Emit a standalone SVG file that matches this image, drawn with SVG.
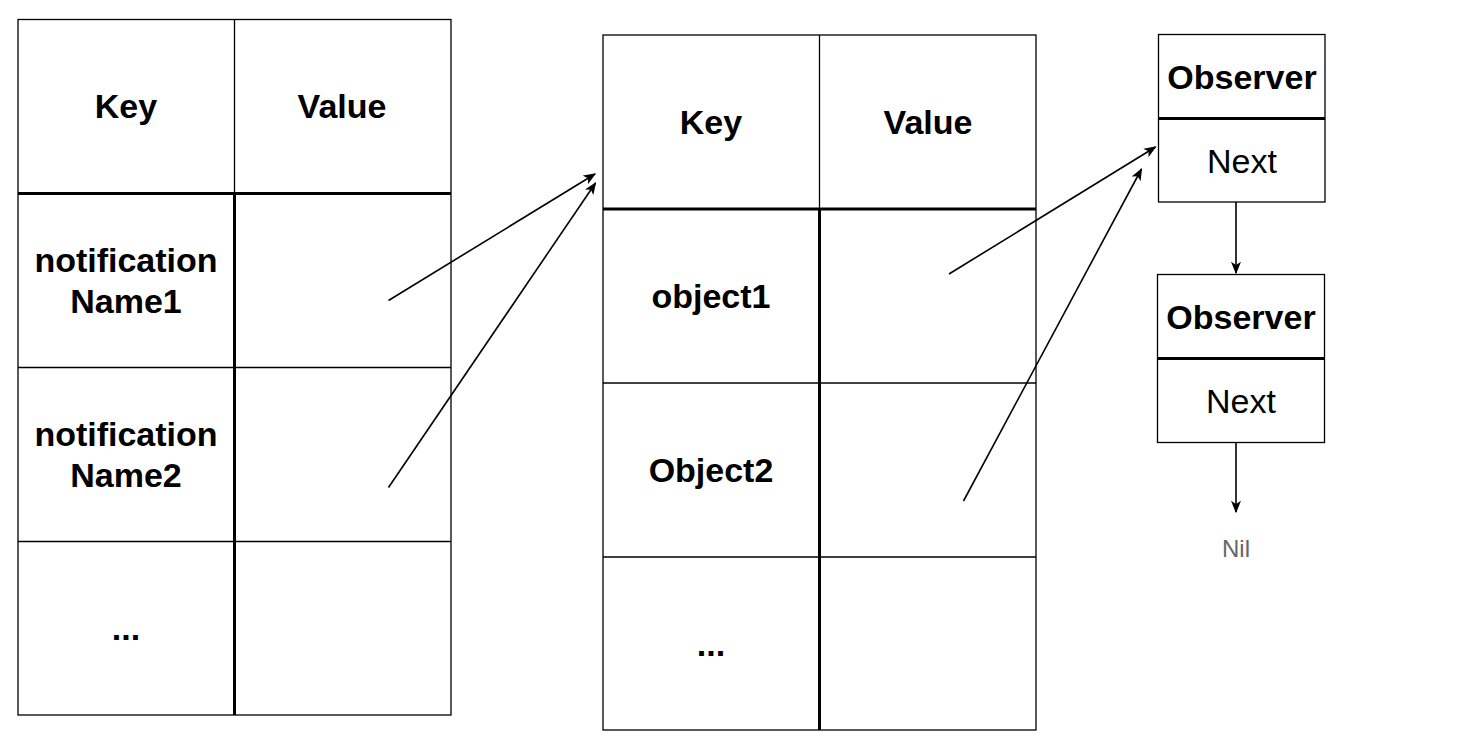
<svg xmlns="http://www.w3.org/2000/svg" width="1480" height="750" viewBox="0 0 1480 750">
<style>
.cell{fill:#fff;stroke:#000;stroke-width:1.3}
.thin{stroke:#000;stroke-width:1.3;fill:none}
.thick{stroke:#000;stroke-width:3;fill:none}
.b{font-family:"Liberation Sans",Arial,Helvetica,sans-serif;font-weight:bold;font-size:34px;fill:#000;text-anchor:middle}
.r{font-family:"Liberation Sans",Arial,Helvetica,sans-serif;font-size:34px;fill:#000;text-anchor:middle}
.nil{font-family:"Liberation Sans",Arial,Helvetica,sans-serif;font-size:24px;fill:#666;text-anchor:middle}
.arrow{stroke:#000;stroke-width:1.6;fill:none;marker-end:url(#ah)}
</style>
<defs>
<marker id="ah" viewBox="0 0 10 8" refX="9" refY="4" markerWidth="13" markerHeight="10" markerUnits="userSpaceOnUse" orient="auto">
<path d="M0,0 L10,4 L0,8 L2.5,4 z" fill="#000"/>
</marker>
</defs>
<rect width="1480" height="750" fill="#fff"/>
<g id="table1">
<rect class="cell" x="18" y="19.5" width="433" height="695.5"/>
<line class="thin" x1="234.5" y1="19.5" x2="234.5" y2="193"/>
<line class="thin" x1="18" y1="367.5" x2="451" y2="367.5"/>
<line class="thin" x1="18" y1="541.5" x2="451" y2="541.5"/>
<line class="thick" x1="18" y1="193.5" x2="451" y2="193.5"/>
<line class="thick" x1="234.5" y1="193" x2="234.5" y2="715"/>
<text class="b" x="126" y="118">Key</text>
<text class="b" x="342" y="118">Value</text>
<text class="b" x="126" y="272">notification</text>
<text class="b" x="126" y="313">Name1</text>
<text class="b" x="126" y="446">notification</text>
<text class="b" x="126" y="487">Name2</text>
<text class="b" x="126" y="640">...</text>
</g>
<g id="table2">
<rect class="cell" x="603" y="35" width="433" height="695"/>
<line class="thin" x1="819.5" y1="35" x2="819.5" y2="209"/>
<line class="thin" x1="603" y1="383" x2="1036" y2="383"/>
<line class="thin" x1="603" y1="557" x2="1036" y2="557"/>
<line class="thick" x1="603" y1="209" x2="1036" y2="209"/>
<line class="thick" x1="819.5" y1="209" x2="819.5" y2="730"/>
<text class="b" x="711" y="134">Key</text>
<text class="b" x="928" y="134">Value</text>
<text class="b" x="711" y="308">object1</text>
<text class="b" x="711" y="482">Object2</text>
<text class="b" x="711" y="656">...</text>
</g>
<g id="observer1">
<rect class="cell" x="1158.5" y="34.5" width="166.5" height="167.5"/>
<line class="thick" x1="1158.5" y1="118.5" x2="1325" y2="118.5"/>
<text class="b" x="1242" y="89">Observer</text>
<text class="r" x="1242" y="173">Next</text>
</g>
<g id="observer2">
<rect class="cell" x="1157.5" y="274.5" width="167" height="168"/>
<line class="thick" x1="1157.5" y1="358.5" x2="1324.5" y2="358.5"/>
<text class="b" x="1241" y="329">Observer</text>
<text class="r" x="1241" y="413">Next</text>
</g>
<g id="nil">
<text class="nil" x="1236" y="557">Nil</text>
</g>
<g id="connectors">
<line class="arrow" x1="388.5" y1="300.5" x2="595" y2="174"/>
<line class="arrow" x1="388.5" y1="487.5" x2="595.5" y2="183"/>
<line class="arrow" x1="949" y1="274" x2="1155.5" y2="147"/>
<line class="arrow" x1="963.5" y1="501" x2="1141.5" y2="169"/>
<line class="arrow" x1="1236" y1="202" x2="1236" y2="273"/>
<line class="arrow" x1="1236" y1="442.5" x2="1236" y2="512"/>
</g>
</svg>
